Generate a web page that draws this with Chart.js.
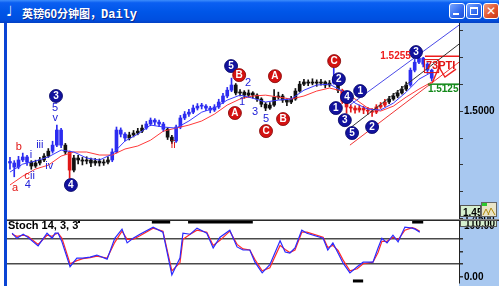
<!DOCTYPE html>
<html>
<head>
<meta charset="utf-8">
<script src="https://cdn.jsdelivr.net/npm/chart.js@4.4.1/dist/chart.umd.min.js"></script>
<style>
  body { margin:0; width:499px; height:286px; overflow:hidden; background:#fff; position:relative; font-family:"Liberation Sans", Arial, sans-serif; }
  #bar { position:absolute; left:0; top:0; width:499px; height:23px;
         background:linear-gradient(#3d8dfb 0%, #0b5ff2 12%, #0056e8 50%, #004fe0 85%, #0340c4 100%); }
  #ico { position:absolute; left:6px; top:3px; color:#fff; font:bold 14px "DejaVu Sans"; }
  #ttl { position:absolute; left:22px; top:4px; color:#fff; white-space:nowrap; text-shadow:1px 1px 0 #0a2a90; }
  #ttl .cjk { font:bold 11px "Noto Sans CJK SC"; }
  #ttl .mono { font:bold 12px "Liberation Mono"; }
  .btn { position:absolute; top:3px; width:14px; height:14px; border:1px solid #fff; border-radius:3px;
         background:linear-gradient(135deg,#7aa6ff,#2f68ee 60%,#1c4fd8); }
  .btn.cls { background:linear-gradient(135deg,#f19a7a,#e0502a 60%,#c53a18); color:#fff; font:bold 12px "DejaVu Sans"; text-align:center; line-height:14px; }
  .mn { position:absolute; left:3px; top:9px; width:6px; height:2px; background:#fff; }
  .mx { position:absolute; left:3px; top:3px; width:6px; height:5px; border:1px solid #fff; border-top-width:2px; }
  #lb { position:absolute; left:4px; top:23px; width:3px; height:263px; background:#0a44d4; }
  #main { position:absolute; left:7px; top:23px; }
  #stoch { position:absolute; left:7px; top:219px; }
  #stlab { position:absolute; left:8px; top:219px; font:bold 11px "Liberation Sans"; color:#000; }
  #stlab b { display:inline-block; width:2px; height:2px; background:#000; vertical-align:top; margin-top:2px; }
</style>
</head>
<body>
<div id="bar">
  <span id="ico">♩</span>
  <span id="ttl"><span class="cjk">英镑60分钟图，</span><span class="mono">Daily</span></span>
  <div class="btn" style="left:449px"><i class="mn"></i></div>
  <div class="btn" style="left:466px"><i class="mx"></i></div>
  <div class="btn cls" style="left:483px">✕</div>
</div>
<div id="lb"></div>
<canvas id="main" width="492" height="196"></canvas>
<canvas id="stoch" width="492" height="67"></canvas>
<div id="stlab">Stoch 14, 3, 3<b></b></div>

<script>
// -------- DATA --------
const firstOpen = 1.4766;
const closes = [
  1.4759,1.4740,1.4773,1.4787,1.4763,1.4745,1.4759,1.4773,1.4791,1.4814,
  1.4842,1.4912,1.4842,1.4810,1.4726,1.4782,1.4773,1.4768,1.4773,1.4759,
  1.4768,1.4759,1.4763,1.4773,1.4810,1.4912,1.4893,1.4875,1.4889,1.4898,
  1.4907,1.4921,1.4940,1.4958,1.4949,1.4940,1.4916,1.4879,1.4861,1.4926,
  1.4968,1.4986,1.4995,1.5014,1.5023,1.5023,1.5014,1.5005,1.5019,1.5042,
  1.5070,1.5097,1.5121,1.5084,1.5088,1.5074,1.5084,1.5074,1.5056,1.5032,
  1.5014,1.5028,1.5065,1.5070,1.5051,1.5042,1.5056,1.5093,1.5125,1.5135,
  1.5130,1.5135,1.5130,1.5135,1.5121,1.5130,1.5148,1.5097,1.5046,1.5019,
  1.5014,1.5005,1.5014,1.5005,1.5000,1.4995,1.5019,1.5028,1.5042,1.5056,
  1.5070,1.5084,1.5102,1.5121,1.5190,1.5227,1.5246,1.5218,1.5190,1.5153
];
const highs = [
  1.4785,1.4770,1.4790,1.4805,1.4795,1.4770,1.4772,1.4785,1.4803,1.4826,
  1.4860,1.4935,1.4920,1.4850,1.4815,1.4795,1.4795,1.4785,1.4788,1.4782,
  1.4780,1.4778,1.4775,1.4788,1.4825,1.4926,1.4922,1.4900,1.4902,1.4910,
  1.4920,1.4935,1.4952,1.4968,1.4965,1.4958,1.4948,1.4922,1.4888,1.4935,
  1.4980,1.4998,1.5008,1.5028,1.5035,1.5036,1.5030,1.5022,1.5030,1.5055,
  1.5082,1.5110,1.5153,1.5128,1.5100,1.5095,1.5098,1.5090,1.5080,1.5062,
  1.5040,1.5040,1.5100,1.5088,1.5078,1.5058,1.5068,1.5105,1.5138,1.5148,
  1.5145,1.5150,1.5145,1.5148,1.5140,1.5142,1.5200,1.5152,1.5102,1.5050,
  1.5030,1.5025,1.5028,1.5022,1.5018,1.5012,1.5030,1.5040,1.5055,1.5068,
  1.5082,1.5096,1.5115,1.5135,1.5200,1.5240,1.5255,1.5250,1.5225,1.5195
];
const lows = [
  1.4730,1.4695,1.4732,1.4765,1.4748,1.4730,1.4738,1.4750,1.4765,1.4785,
  1.4805,1.4835,1.4830,1.4798,1.4689,1.4718,1.4755,1.4750,1.4755,1.4742,
  1.4748,1.4745,1.4748,1.4755,1.4765,1.4805,1.4880,1.4862,1.4866,1.4880,
  1.4890,1.4900,1.4915,1.4932,1.4935,1.4928,1.4905,1.4868,1.4850,1.4855,
  1.4918,1.4960,1.4975,1.4988,1.5005,1.5010,1.5002,1.4992,1.4998,1.5012,
  1.5035,1.5062,1.5090,1.5075,1.5070,1.5060,1.5065,1.5060,1.5045,1.5020,
  1.5002,1.5008,1.5022,1.5055,1.5040,1.5025,1.5035,1.5050,1.5088,1.5118,
  1.5118,1.5122,1.5115,1.5120,1.5108,1.5112,1.5125,1.5085,1.5035,1.4990,
  1.4995,1.4990,1.4995,1.4988,1.4985,1.4975,1.4988,1.5012,1.5020,1.5035,
  1.5050,1.5062,1.5078,1.5095,1.5115,1.5182,1.5220,1.5205,1.5175,1.5140
];

// moving averages, read every third bar
const maIdx = [0,3,6,9,12,15,18,21,24,27,30,33,36,39,42,45,48,51,54,57,60,63,66,69,72,75,78,81,84,87,90,93,96,99];
const maFast = [1.4717,1.4754,1.4768,1.4787,1.4819,1.4810,1.4782,1.4773,1.4800,1.4861,1.4893,1.4935,1.4926,1.4921,1.4954,1.4995,1.5014,
                1.5051,1.5074,1.5060,1.5042,1.5051,1.5056,1.5097,1.5121,1.5125,1.5093,1.5037,1.5009,1.5005,1.5037,1.5088,1.5148,1.5181];
const maSlow = [1.4657,1.4698,1.4731,1.4749,1.4791,1.4810,1.4810,1.4796,1.4796,1.4824,1.4838,1.4865,1.4907,1.4921,1.4935,1.4954,1.4986,
                1.5028,1.5056,1.5070,1.5074,1.5065,1.5056,1.5070,1.5093,1.5107,1.5093,1.5056,1.5014,1.5000,1.5023,1.5065,1.5102,1.5135];

// stochastic 14,3,3
const stochIdx = [0.5,1.6,3.1,4.2,6.6,8.7,9.9,10.6,11.3,12.2,14.1,15.7,17.1,18.8,20.4,22.8,24.6,26.3,27.5,28.9,30.5,33.6,35.9,38.0,39.9,
                  40.6,42.3,43.9,46.2,47.7,49.3,51.6,53.3,54.7,56.3,57.5,59.2,61.0,63.4,64.6,65.7,66.9,68.5,69.7,73.5,74.6,75.8,77.0,78.2,79.8,
                  81.5,82.9,85.2,86.4,87.3,88.5,89.9,91.1,92.7,94.4,95.1,96.2];
const stochK = [86,76,84,78,61,86,76,86,86,69,20,37,37,39,43,35,76,94,67,76,84,98,88,4,37,
                86,84,96,86,57,78,92,59,53,53,29,8,24,71,49,47,57,92,86,76,53,67,47,27,8,
                20,29,29,57,76,67,82,69,98,96,94,88];
const stochD = [84,80,82,80,64,82,80,84,86,76,26,32,36,38,41,37,68,90,74,74,81,96,90,12,28,
                74,84,92,88,62,72,90,64,55,53,34,12,18,62,54,48,53,88,88,78,58,62,52,33,12,
                16,26,29,48,70,70,78,73,92,97,95,90];
const stochLevels = [25, 75];
const stochTicks = [0, 25, 50, 75, 100, 110];
const stochLabelled = [0, 100];
const obZones = [[33.3,37.6],[41.8,57.0],[94.4,97.0]];
const osZones = [[80.5,82.9]];

// price axis
const priceTicks = [1.4500,1.4625,1.4750,1.4875,1.5000,1.5125,1.5250,1.5375];
const priceLabelled = [1.4500, 1.5000];

// wave counts: text, kind, bar, price
const waves = [
  ['3','bc',10.8,1.5070],['5','bt',10.6,1.5014],['v','bt',10.6,1.4968],['iii','bt',7.0,1.4842],
  ['i','bt',4.9,1.4796],['iv','bt',9.2,1.4745],['c','rt',4.0,1.4698],['ii','bt',5.3,1.4698],
  ['4','bt',4.2,1.4657],['b','rt',2.1,1.4833],['a','rt',1.2,1.4643],['4','bc',14.3,1.4657],
  ['ii','rt',38.3,1.4842],['5','bc',51.9,1.5209],['B','rc',53.8,1.5167],['2','bt',55.9,1.5130],
  ['1','bt',54.5,1.5042],['A','rc',52.8,1.4991],['3','bt',57.5,1.4995],['5','bt',60.1,1.4963],
  ['C','rc',60.1,1.4907],['A','rc',62.2,1.5162],['B','rc',64.1,1.4963],['C','rc',76.1,1.5232],
  ['2','bc',77.2,1.5148],['1','bc',82.2,1.5093],['4','bc',79.1,1.5065],['1','bc',76.5,1.5014],
  ['3','bc',78.6,1.4958],['5','bc',80.3,1.4898],['2','bc',85.0,1.4926],['3','bc',95.3,1.5274]
];

// channel lines and targets
const chanTop = [[79.8,1.5028],[105.4,1.5399]];
const chanMid = [[79.8,1.4921],[105.4,1.5311]];
const chanLow = [[79.8,1.4842],[105.4,1.5227]];
const levelHigh = 1.5255, levelHighFrom = 97.4, levelHighLabel = 94.1;
const levelLow = 1.5125, levelLowFrom = 98.1, levelLowLabel = [98.1, 1.5102];
const projPath = [[99.1,1.5130],[100.7,1.5204],[102.1,1.5158],[104.7,1.5195]];
const ptiNote = ['73', 'PTI', 97.4, 1.5209];

const X_MIN = -0.7, X_MAX = 105.4;

// -------- STYLE --------
const BLUE = '#2c2cf0', RED = '#e01818', BLACK = '#111';
const blueRuns = [[0,4],[10,12],[24,27],[32,36],[39,52],[76,76],[94,99]];
const redRuns = [[14,14],[78,88]];
const inRuns = (runs, i) => runs.some(r => i >= r[0] && i <= r[1]);
function candleColour(i) {
  if (inRuns(blueRuns, i)) return BLUE;
  if (inRuns(redRuns, i)) return RED;
  return BLACK;
}
const pts = arr => arr.map(p => ({ x: p[0], y: p[1] }));
const lineDs = (data, color, width) => ({
  type: 'line', data, borderColor: color, borderWidth: width || 1, pointRadius: 0, tension: 0, fill: false
});
// fixed-width right axis with no extra label padding
const fitAxis = s => { s.width = 40; s.paddingTop = 0; s.paddingBottom = 0; };

// -------- PLUGINS --------
const panelBg = {
  id: 'panelBg',
  beforeDraw(chart) {
    const { ctx, chartArea: a } = chart;
    ctx.save();
    ctx.fillStyle = '#fff';
    ctx.fillRect(0, 0, a.right, chart.height);
    ctx.fillStyle = '#a8c8f0';
    ctx.fillRect(a.right, 0, chart.width - a.right, chart.height);
    ctx.restore();
  }
};

const waveMarks = {
  id: 'waveMarks',
  afterDatasetsDraw(chart) {
    const { ctx, scales: { x, y } } = chart;
    ctx.save();
    ctx.textAlign = 'center';
    ctx.textBaseline = 'middle';
    waves.forEach(([t, kind, i, p]) => {
      const px = x.getPixelForValue(i), py = y.getPixelForValue(p);
      if (kind === 'bc' || kind === 'rc') {
        ctx.beginPath();
        ctx.arc(px, py, 6.5, 0, Math.PI * 2);
        ctx.fillStyle = kind === 'bc' ? '#12129e' : '#d41212';
        ctx.fill();
        ctx.lineWidth = 0.8;
        ctx.strokeStyle = kind === 'bc' ? '#000060' : '#800000';
        ctx.stroke();
        ctx.fillStyle = '#fff';
        ctx.font = 'bold 10px "Liberation Sans"';
        ctx.fillText(t, px, py + 0.5);
      } else {
        ctx.fillStyle = kind === 'bt' ? '#2222d8' : '#e01414';
        ctx.font = '11px "Liberation Sans"';
        ctx.fillText(t, px, py);
      }
    });

    // target levels
    ctx.font = 'bold 10px "Liberation Sans"';
    ctx.textAlign = 'right';
    ctx.fillStyle = '#ee1c1c';
    ctx.fillText(levelHigh.toFixed(4), x.getPixelForValue(levelHighLabel), y.getPixelForValue(levelHigh));
    ctx.textAlign = 'left';
    ctx.fillStyle = '#13891a';
    ctx.fillText(levelLow.toFixed(4), x.getPixelForValue(levelLowLabel[0]), y.getPixelForValue(levelLowLabel[1]));

    // PTI note
    ctx.font = 'bold 11px "Liberation Sans"';
    ctx.fillStyle = '#e01414';
    const nx = x.getPixelForValue(ptiNote[2]), ny = y.getPixelForValue(ptiNote[3]);
    const w = ctx.measureText(ptiNote[0]).width;
    ctx.fillText(ptiNote[0] + ptiNote[1], nx + 1, ny);
    ctx.strokeStyle = '#e01414';
    ctx.lineWidth = 1;
    ctx.strokeRect(nx - 0.5, ny - 6.5, w + 2, 13);
    ctx.restore();
  },
  afterDraw(chart) {
    // small price tag and tool icon at the bottom of the axis
    const { ctx, chartArea: a } = chart;
    const h = chart.height;
    ctx.save();
    ctx.fillStyle = '#d6efcf';
    ctx.fillRect(a.right + 1, h - 14, 21, 12);
    ctx.strokeStyle = '#555';
    ctx.strokeRect(a.right + 1.5, h - 13.5, 20, 11);
    ctx.fillStyle = '#000';
    ctx.font = 'bold 10px "Liberation Sans"';
    ctx.textBaseline = 'middle';
    ctx.save();
    ctx.beginPath(); ctx.rect(a.right + 2, h - 13, 19, 10); ctx.clip();
    ctx.fillText(priceLabelled[0].toFixed(4), a.right + 4, h - 6);
    ctx.restore();
    ctx.fillStyle = '#e9e4c8';
    ctx.fillRect(a.right + 22, h - 17, 16, 15);
    ctx.strokeStyle = '#666';
    ctx.strokeRect(a.right + 22.5, h - 16.5, 15, 14);
    ctx.fillStyle = '#2ec82e';
    ctx.fillRect(a.right + 23, h - 16, 5, 3);
    ctx.strokeStyle = '#b08a10';
    ctx.beginPath();
    ctx.moveTo(a.right + 24, h - 4); ctx.lineTo(a.right + 27, h - 10); ctx.lineTo(a.right + 30, h - 4);
    ctx.moveTo(a.right + 29, h - 4); ctx.lineTo(a.right + 32, h - 11); ctx.lineTo(a.right + 36, h - 4);
    ctx.stroke();
    ctx.restore();
  }
};

const stochFrame = {
  id: 'stochFrame',
  afterDraw(chart) {
    const { ctx, chartArea: a } = chart;
    ctx.save();
    ctx.fillStyle = '#8a8a8a';
    ctx.fillRect(0, 0, chart.width, 1);
    ctx.fillStyle = '#2a2a2a';
    ctx.fillRect(0, 1, chart.width, 1);
    // 110 tag
    ctx.fillStyle = '#d6efcf';
    ctx.fillRect(a.right + 1, 1, 37, 7);
    ctx.strokeStyle = '#555';
    ctx.strokeRect(a.right + 1.5, 1.5, 36, 6);
    ctx.beginPath(); ctx.rect(a.right + 2, 2, 35, 5); ctx.clip();
    ctx.fillStyle = '#000';
    ctx.font = 'bold 10px "Liberation Sans"';
    ctx.textBaseline = 'middle';
    ctx.fillText('110.00', a.right + 6, 5);
    ctx.restore();
  }
};

// -------- CHARTS --------
const bodies = closes.map((c, i) => ({ x: i, y: [i ? closes[i - 1] : firstOpen, c] }));
const wicks = closes.map((c, i) => ({ x: i, y: [lows[i], highs[i]] }));

new Chart(document.getElementById('main'), {
  type: 'bar',
  data: {
    datasets: [
      lineDs(pts(projPath), '#ee2020', 1.4),
      lineDs(pts(chanTop), '#4a4ae8', 1),
      lineDs(pts(chanMid), '#333', 1),
      lineDs(pts(chanLow), '#f03434', 1),
      lineDs([{ x: levelHighFrom, y: levelHigh }, { x: X_MAX, y: levelHigh }], '#ee1c1c', 1.5),
      lineDs([{ x: levelLowFrom, y: levelLow }, { x: X_MAX, y: levelLow }], '#13891a', 1.5),
      lineDs(maIdx.map((i, k) => ({ x: i, y: maFast[k] })), '#3b3bff', 1),
      lineDs(maIdx.map((i, k) => ({ x: i, y: maSlow[k] })), '#ff3a3a', 1),
      { data: wicks, backgroundColor: ctx => candleColour(ctx.dataIndex), barThickness: 1, grouped: false, borderWidth: 0 },
      { data: bodies, backgroundColor: ctx => candleColour(ctx.dataIndex), barThickness: 3, minBarLength: 1, grouped: false, borderWidth: 0 }
    ]
  },
  options: {
    responsive: false,
    animation: false,
    layout: { padding: 0 },
    plugins: { legend: { display: false }, tooltip: { enabled: false } },
    scales: {
      x: { type: 'linear', min: X_MIN, max: X_MAX, offset: false, display: false },
      y: {
        position: 'right', min: 1.4499, max: 1.5409,
        afterBuildTicks: s => { s.ticks = priceTicks.map(v => ({ value: v })); },
        afterFit: fitAxis,
        ticks: {
          autoSkip: false, padding: 1, color: '#000',
          font: { family: 'Liberation Sans', size: 10, weight: 'bold' },
          callback: v => priceLabelled.some(p => Math.abs(p - v) < 1e-6) ? v.toFixed(4) : ''
        },
        grid: { drawOnChartArea: false, tickLength: 4, color: '#333' },
        border: { color: '#222' }
      }
    }
  },
  plugins: [panelBg, waveMarks]
});

const zoneSets = [];
obZones.forEach(z => zoneSets.push(lineDs([{ x: z[0], y: 108 }, { x: z[1], y: 108 }], '#000', 3)));
osZones.forEach(z => zoneSets.push(lineDs([{ x: z[0], y: -8 }, { x: z[1], y: -8 }], '#000', 3)));

new Chart(document.getElementById('stoch'), {
  type: 'line',
  data: {
    datasets: [
      lineDs(stochIdx.map((i, k) => ({ x: i, y: stochK[k] })), '#2a2aff', 1.2),
      lineDs(stochIdx.map((i, k) => ({ x: i, y: stochD[k] })), '#ff2a2a', 1.2),
      ...zoneSets
    ]
  },
  options: {
    responsive: false,
    animation: false,
    layout: { padding: { top: 1, bottom: 3, left: 0, right: 0 } },
    plugins: { legend: { display: false }, tooltip: { enabled: false } },
    scales: {
      x: { type: 'linear', min: X_MIN, max: X_MAX, display: false },
      y: {
        position: 'right', min: -12, max: 112,
        afterBuildTicks: s => { s.ticks = stochTicks.map(v => ({ value: v })); },
        afterFit: fitAxis,
        ticks: {
          autoSkip: false, padding: 1, color: '#000',
          font: { family: 'Liberation Sans', size: 10, weight: 'bold' },
          callback: v => stochLabelled.includes(v) ? v.toFixed(2) : ''
        },
        grid: {
          tickLength: 4, tickColor: '#333', lineWidth: 1.5,
          color: c => stochLevels.includes(c.tick.value) ? '#4a4a4a' : 'rgba(0,0,0,0)'
        },
        border: { color: '#222' }
      }
    }
  },
  plugins: [panelBg, stochFrame]
});
</script>
</body>
</html>
